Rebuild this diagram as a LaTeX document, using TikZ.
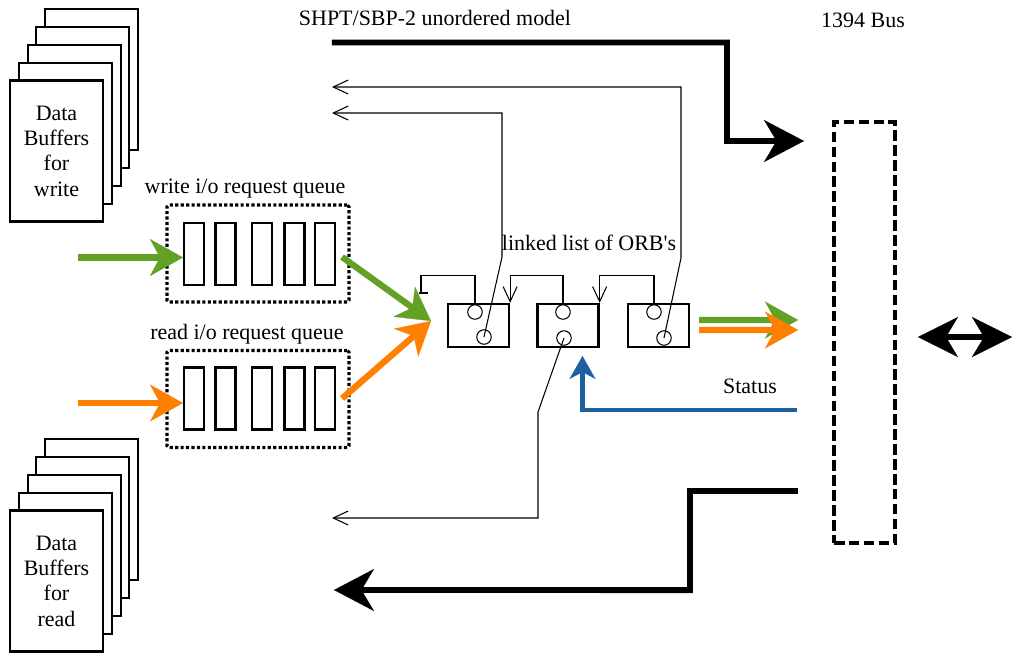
\documentclass[tikz,border=0pt]{standalone}
\usepackage{fontspec}
\setmainfont{Liberation Serif}
\usetikzlibrary{arrows.meta,calc}

\definecolor{wgreen}{RGB}{98,160,38}
\definecolor{rorange}{RGB}{255,128,0}
\definecolor{sblue}{RGB}{30,96,160}

\tikzset{
    page/.style={draw=black, fill=white, line width=1.2pt, minimum width=1.86cm, minimum height=2.82cm, align=center},
    slot/.style={draw=black, line width=1.2pt, minimum width=0.4cm, minimum height=1.24cm},
    queue/.style={draw=black, line width=1.8pt, dash pattern=on 1.8pt off 1.3pt, rounded corners=1pt, minimum width=3.64cm, minimum height=1.94cm},
    orb/.style={draw=black, line width=1.3pt, minimum width=1.22cm, minimum height=0.86cm},
    ptr/.style={draw=black, circle, line width=0.6pt, minimum size=0.29cm},
    bus/.style={draw=black, line width=2.2pt, dash pattern=on 6pt off 2.5pt, minimum width=1.22cm, minimum height=8.42cm},
    link/.style={draw=black, line width=0.6pt},
    linkarr/.style={link, -{Straight Barb[length=0.3cm,width=0.28cm]}},
    fat/.style={line width=3.4pt, -{Stealth[length=0.8cm,width=0.84cm,inset=0.25cm,line width=0.1pt]}},
    colfat/.style={line width=3.6pt, -{Stealth[length=0.66cm,width=0.74cm,inset=0.2cm,line width=0.1pt]}},
    stat/.style={line width=2.7pt, -{Stealth[length=0.46cm,width=0.52cm,inset=0.14cm,line width=0.1pt]}}
}

\begin{document}
\begin{tikzpicture}[scale=0.2]
    \tikzstyle{every node}+=[inner sep=0pt, font=\fontsize{12.5}{14.4}\selectfont]
    \useasboundingbox (0,0) rectangle (101.3,-65.4);
    % data buffers
    \foreach \i in {4,3,2,1}
        \node [page] (wbuf\i) at (5.65+0.88*\i,-15.1+1.78*\i) {};
    \node [page] (wbuf0) at (5.65,-15.1) {Data\\Buffers\\for\\write};
    \foreach \i in {4,3,2,1}
        \node [page] (rbuf\i) at (5.65+0.88*\i,-58.1+1.78*\i) {};
    \node [page] (rbuf0) at (5.65,-58.1) {Data\\Buffers\\for\\read};
    % request queues
    \node (wlabel) at (24.5,-18.9) {write i/o request queue};
    \node (rlabel) at (24.7,-33.4) {read i/o request queue};
    \node [queue] (wq) at (25.8,-25.35) {};
    \node [queue] (rq) at (25.8,-39.9) {};
    \foreach \x [count=\n] in {19.4,22.55,26.2,29.45,32.5} {
        \node [slot] (ws\n) at (\x,-25.4) {};
        \node [slot] (rs\n) at (\x,-39.85) {};
    }
    % ORB list
    \node (orblabel) at (58.9,-24.3) {linked list of ORB\textquotesingle s};
    \foreach \x [count=\n] in {47.85,56.8,65.85}
        \node [orb] (orb\n) at (\x,-32.55) {};
    \node [ptr] (nxt1) at (47.5,-31.2) {};
    \node [ptr] (buf1) at (48.4,-33.7) {};
    \node [ptr] (nxt2) at (56.3,-31.2) {};
    \node [ptr] (buf2) at (56.4,-33.8) {};
    \node [ptr] (nxt3) at (65.4,-31.2) {};
    \node [ptr] (buf3) at (66.4,-33.8) {};
    \draw [link] (nxt1.north) -- ++(0,2.85) -| (42.1,-29.3) coordinate (nil);
    \draw [link] (nil) ++(-0.2,0) -- ++(0.9,0);
    \draw [linkarr] (nxt2.north) -- ++(0,2.85) -| (orb1.north east);
    \draw [linkarr] (nxt3.north) -- ++(0,2.85) -| (orb2.north east);
    \draw [linkarr] (buf1.center) -- (50.2,-25.7) |- (33.2,-11.3) coordinate (ret1);
    \draw [linkarr] (buf3.center) -- (68.1,-25.8) |- (33.2,-8.7) coordinate (ret3);
    \draw [linkarr] (buf2.center) -- (53.8,-41.2) |- (33.2,-51.8) coordinate (ret2);
    % bus
    \node (buslabel) at (86.3,-2.0) {1394 Bus};
    \node [bus] (bus) at (86.45,-33.25) {};
    \node (model) at (43.5,-1.8) {SHPT/SBP-2 unordered model};
    \coordinate (cmdin) at (33.2,-4.25);
    \coordinate (cmdout) at (80.4,-14.1);
    \draw [fat] (cmdin) -| (72.7,-14.1) -- (cmdout);
    \coordinate (datain) at (79.8,-49.1);
    \coordinate (dataout) at (33.4,-59.0);
    \draw [fat] (datain) -| (69.0,-59.0) -- (dataout);
    \coordinate (busl) at (91.8,-33.7);
    \coordinate (busr) at (101.2,-33.7);
    \draw [line width=3.6pt, {Stealth[length=0.8cm,width=0.8cm,inset=0.24cm,line width=0.1pt]}-{Stealth[length=0.8cm,width=0.8cm,inset=0.24cm,line width=0.1pt]}] (busl) -- (busr);
    % requests
    \coordinate (win) at (7.8,-25.75);
    \coordinate (rin) at (7.8,-40.3);
    \coordinate (merge) at (43.1,-32.1);
    \draw [colfat, wgreen] (win) -- (ws1.west |- win);
    \draw [colfat, rorange] (rin) -- (rs1.west |- rin);
    \draw [colfat, wgreen] ($(ws5.east)+(0.6,-0.3)$) -- (merge);
    \draw [colfat, rorange] ($(rs5.east)+(0.6,0)$) -- (merge);
    \coordinate (gout) at (79.8,-32.0);
    \coordinate (oout) at (79.8,-33.0);
    \draw [colfat, wgreen] ($(orb3.east)+(0.9,0.55)$) -- (gout);
    \draw [colfat, rorange] ($(orb3.east)+(0.9,-0.45)$) -- (oout);
    % status
    \node (status) at (75.0,-38.6) {Status};
    \coordinate (statin) at (79.7,-41.0);
    \coordinate (stattip) at (58.25,-35.6);
    \draw [stat, sblue] (statin) -| (stattip);
\end{tikzpicture}
\end{document}
